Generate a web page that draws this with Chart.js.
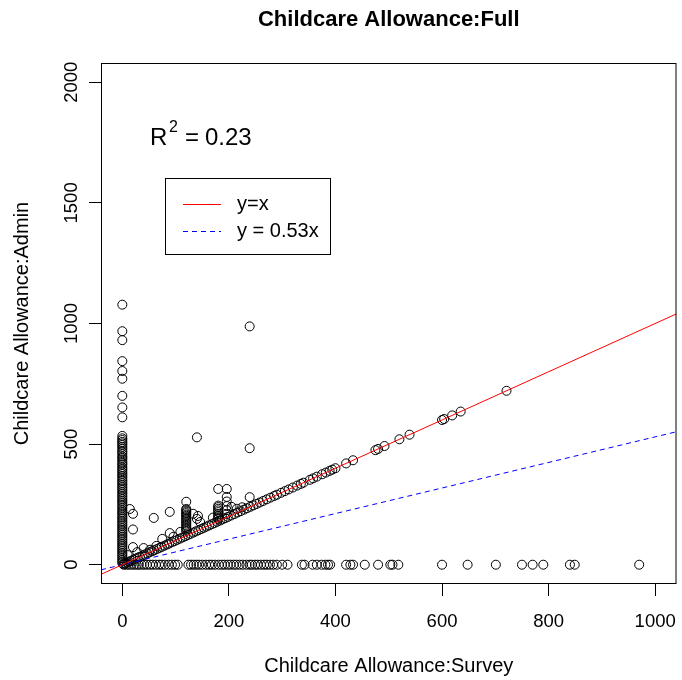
<!DOCTYPE html>
<html>
<head>
<meta charset="utf-8">
<script src="https://cdn.jsdelivr.net/npm/chart.js@4"></script>
<style>
html, body { margin: 0; padding: 0; background: #fff; }
#wrap { width: 682px; height: 680px; }
</style>
</head>
<body>
<div id="wrap"><canvas id="chart"></canvas></div>
<script>
const xTicks = [0, 200, 400, 600, 800, 1000];
const yTicks = [0, 500, 1000, 1500, 2000];
const xLimits = [-40, 1040];
const yLimits = [-80, 2080];
const fitSlope = 0.53;
const rSquared = '0.23';

// survey reported 0, admin > 0
const zeroSurveyAdmin = [1078, 968, 931, 844, 803, 771, 700, 652, 611, 534, 524, 517, 509, 503, 496, 488, 481,
  472, 466, 458, 449, 443, 436, 427, 420, 414, 405, 398, 391, 383, 376, 368, 361, 352, 346, 338, 331, 323, 316,
  309, 301, 294, 286, 279, 271, 264, 257, 249, 242, 234, 226, 219, 212, 204, 196, 190, 182, 175, 167, 160, 152,
  145, 138, 130, 123, 116, 108, 101, 93, 86, 79, 71, 64, 57, 49, 42, 35, 27, 20, 13, 6];

// admin 0, survey > 0
const zeroAdminSurvey = [3, 8, 12, 17, 22, 27, 31, 36, 41, 46, 52, 57, 63, 69, 74, 80, 87, 93, 99, 104, 124, 129,
  134, 139, 144, 150, 157, 163, 168, 174, 181, 187, 192, 198, 203, 209, 214, 220, 226, 233, 239, 243, 249, 254,
  260, 266, 271, 277, 283, 290, 300, 310, 337, 342, 357, 365, 374, 381, 386, 390, 420, 428, 433, 455, 480, 503,
  507, 518, 600, 648, 701, 750, 770, 790, 840, 849, 970];

// survey == admin
const matchedValues = [2, 5, 9, 13, 17, 21, 25, 29, 33, 38, 42, 47, 51, 56, 60, 65, 70, 74, 79, 84, 88, 93, 98,
  103, 108, 113, 118, 123, 128, 133, 138, 143, 148, 153, 158, 163, 168, 173, 178, 183, 188, 193, 198, 204, 210,
  216, 222, 228, 234, 240, 246, 252, 258, 264, 271, 278, 285, 290, 298, 305, 312, 320, 328, 335, 340, 352, 358,
  365, 375, 382, 389, 394, 400, 420, 433, 475, 480, 492, 520, 539, 600, 604, 619, 635, 721];

// everything else
const otherSurvey = [140, 239, 239, 239, 14, 20, 20, 20, 40, 59, 89, 89, 75, 96, 109, 133, 140, 142, 146, 10, 28,
  52, 64, 170, 205, 215, 225,
  120, 120, 120, 120, 120, 120, 120, 120, 120, 120, 120, 120, 120, 120, 120, 120, 120,
  180, 180, 180, 180, 180, 180, 180, 180, 180, 180,
  196, 196, 196, 196, 196, 196];
const otherAdmin = [528, 988, 483, 280, 231, 211, 146, 73, 69, 194, 219, 131, 107, 116, 136, 211, 190, 202, 177, 40,
  52, 62, 78, 195, 240, 232, 238,
  261, 231, 226, 220, 214, 208, 203, 197, 190, 184, 178, 171, 165, 158, 152, 146, 140,
  314, 245, 239, 232, 225, 218, 210, 203, 196, 190,
  314, 281, 262, 243, 226, 211];

const lineLabels = ['y=x', 'y = 0.53x'];

const points = []
  .concat(zeroSurveyAdmin.map(v => ({ x: 0, y: v })))
  .concat(zeroAdminSurvey.map(v => ({ x: v, y: 0 })))
  .concat(matchedValues.map(v => ({ x: v, y: v })))
  .concat(otherSurvey.map((v, i) => ({ x: v, y: otherAdmin[i] })));

const FONT = '"Liberation Sans", Arial, sans-serif';

const decorations = {
  id: 'decorations',
  afterDraw(chart) {
    const { ctx, chartArea: a, scales } = chart;
    ctx.save();
    // plot box
    ctx.strokeStyle = '#000';
    ctx.lineWidth = 1;
    ctx.strokeRect(a.left + 0.5, a.top + 0.5, a.right - a.left - 1, a.bottom - a.top - 1);

    ctx.fillStyle = '#000';
    // rotated y tick labels
    ctx.font = '18.5px ' + FONT;
    ctx.textAlign = 'center';
    ctx.textBaseline = 'alphabetic';
    yTicks.forEach(v => {
      ctx.save();
      ctx.translate(77, scales.y.getPixelForValue(v));
      ctx.rotate(-Math.PI / 2);
      ctx.fillText(String(v), 0, 0);
      ctx.restore();
    });

    // axis titles
    ctx.font = '20px ' + FONT;
    ctx.fillText('Childcare Allowance:Survey', (a.left + a.right) / 2, 672);
    ctx.save();
    ctx.translate(28, (a.top + a.bottom) / 2);
    ctx.rotate(-Math.PI / 2);
    ctx.fillText('Childcare Allowance:Admin', 0, 0);
    ctx.restore();

    // main title
    ctx.font = 'bold 22px ' + FONT;
    ctx.fillText('Childcare Allowance:Full', (a.left + a.right) / 2, 26);

    // R^2 annotation
    ctx.textAlign = 'left';
    ctx.font = '24px ' + FONT;
    ctx.fillText('R', 150, 145);
    ctx.fillText('=', 185, 145);
    ctx.fillText(rSquared, 205, 145);
    ctx.font = '16px ' + FONT;
    ctx.fillText('2', 169, 132);

    // legend
    ctx.strokeRect(165.5, 178.5, 165, 76);
    const rows = [210, 237];
    chart.data.datasets.slice(0, 2).forEach((ds, i) => {
      const ly = rows[i] - 5.5;
      ctx.save();
      ctx.strokeStyle = ds.borderColor;
      ctx.lineWidth = 1;
      ctx.setLineDash(ds.borderDash || []);
      ctx.beginPath();
      ctx.moveTo(183, ly);
      ctx.lineTo(221, ly);
      ctx.stroke();
      ctx.restore();
      ctx.font = '20px ' + FONT;
      ctx.fillText(ds.label, 237, rows[i]);
    });
    ctx.restore();
  }
};

new Chart(document.getElementById('chart'), {
  type: 'scatter',
  data: {
    datasets: [
      {
        label: lineLabels[0],
        data: xLimits.map(v => ({ x: v, y: v })),
        showLine: true,
        borderColor: 'red',
        borderWidth: 1,
        pointRadius: 0
      },
      {
        label: lineLabels[1],
        data: xLimits.map(v => ({ x: v, y: v * fitSlope })),
        showLine: true,
        borderColor: 'blue',
        borderWidth: 1,
        borderDash: [5, 4],
        pointRadius: 0
      },
      {
        label: 'obs',
        data: points,
        backgroundColor: 'rgba(0,0,0,0)',
        borderColor: '#000',
        borderWidth: 1,
        pointRadius: 4.5
      }
    ]
  },
  options: {
    responsive: true,
    maintainAspectRatio: false,
    animation: false,
    events: [],
    layout: { padding: { top: 63, right: 1, left: 0, bottom: 0 } },
    plugins: {
      legend: { display: false },
      title: { display: false },
      tooltip: { enabled: false }
    },
    scales: {
      x: {
        type: 'linear',
        min: xLimits[0],
        max: xLimits[1],
        afterBuildTicks: s => { s.ticks = xTicks.map(v => ({ value: v })); },
        afterFit: s => { s.height = 96; s.paddingLeft = 0; s.paddingRight = 0; },
        grid: { drawOnChartArea: false, drawTicks: true, tickLength: 12, color: '#000' },
        border: { display: false },
        ticks: {
          color: '#000',
          font: { family: FONT, size: 18.5 },
          padding: 15,
          maxRotation: 0,
          autoSkip: false,
          callback: v => String(v)
        }
      },
      y: {
        type: 'linear',
        min: yLimits[0],
        max: yLimits[1],
        afterBuildTicks: s => { s.ticks = yTicks.map(v => ({ value: v })); },
        afterFit: s => { s.width = 101; s.paddingTop = 0; s.paddingBottom = 0; },
        grid: { drawOnChartArea: false, drawTicks: true, tickLength: 12, color: '#000' },
        border: { display: false },
        ticks: { display: false }
      }
    }
  },
  plugins: [decorations]
});
</script>
</body>
</html>
